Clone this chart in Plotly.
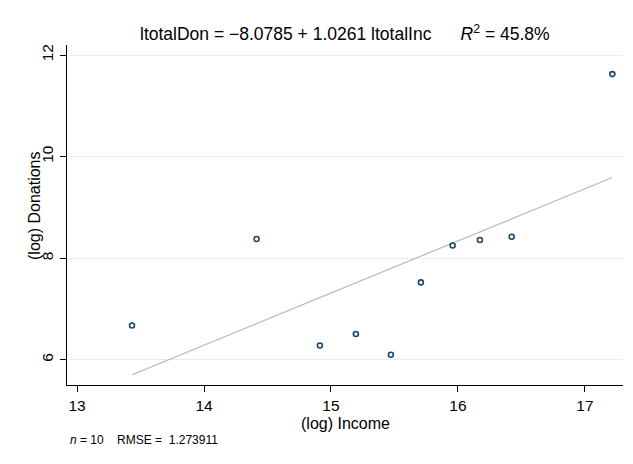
import plotly.graph_objects as go

# Data
log_income = [13.433, 14.414, 14.913, 15.196, 15.472, 15.708, 15.958, 16.173, 16.423, 17.216]
log_donations = [6.675, 8.376, 6.281, 6.506, 6.098, 7.522, 8.250, 8.356, 8.421, 11.624]
intercept = -8.0785
slope = 1.0261
r2_pct = 45.8
n_obs = 10
rmse = 1.273911
x_ticks = [13, 14, 15, 16, 17]
y_ticks = [6, 8, 10, 12]

fit_x = [min(log_income), max(log_income)]
fit_y = [intercept + slope * v for v in fit_x]

FONT = "Liberation Sans, Arial, Helvetica, sans-serif"
NB = "\u00a0"

fig = go.Figure()
fig.add_trace(go.Scatter(
    x=fit_x, y=fit_y, mode="lines",
    line=dict(color="#b8b8b8", width=1.2),
    hoverinfo="skip", showlegend=False,
))
fig.add_trace(go.Scatter(
    x=log_income, y=log_donations, mode="markers",
    marker=dict(symbol="circle-open", size=5, color="#1a476f",
                line=dict(color="#1a476f", width=1.6)),
    showlegend=False,
))

title_text = (f"ltotalDon = \u2212{abs(intercept):.4f} + {slope:.4f} ltotalInc"
              + NB * 6 + f"<i>R</i><sup>2</sup> = {r2_pct:.1f}%")
foot_text = f"<i>n</i> = {n_obs}" + NB * 4 + "RMSE = " + NB + f"{rmse:.6f}"

# the page body adds an 8px offset, so the figure is 8px smaller and margins shifted
fig.update_layout(
    width=625, height=456, autosize=False,
    margin=dict(l=59, r=10, t=37, b=79),
    paper_bgcolor="white", plot_bgcolor="white",
    font=dict(family=FONT, size=15, color="black"),
    xaxis=dict(
        range=[12.921, 17.30], tickvals=x_ticks, ticktext=[str(t) for t in x_ticks],
        showgrid=False, zeroline=False,
        showline=True, linecolor="black", linewidth=1,
        ticks="outside", ticklen=6, tickcolor="black", tickwidth=1,
        tickfont=dict(size=15.5, family=FONT),
    ),
    yaxis=dict(
        range=[5.502, 12.197], tickvals=y_ticks, ticktext=[str(t) for t in y_ticks],
        showgrid=True, gridcolor="#e7eef0", gridwidth=1, zeroline=False,
        showline=True, linecolor="black", linewidth=1,
        ticks="outside", ticklen=6, tickcolor="black", tickwidth=1,
        tickangle=-90, tickfont=dict(size=15.5, family=FONT),
        ticklabelstandoff=1,
    ),
    annotations=[
        dict(text=title_text, xref="paper", yref="paper", x=0.5, y=1.0,
             yshift=12, showarrow=False, xanchor="center", yanchor="middle",
             font=dict(size=17.5, family=FONT)),
        dict(text="(log) Income", xref="paper", yref="paper", x=0.5, y=0,
             yshift=-38, showarrow=False, xanchor="center", yanchor="middle",
             font=dict(size=16, family=FONT)),
        dict(text="(log) Donations", xref="paper", yref="paper", x=0, y=0.5,
             xshift=-33, yshift=9, textangle=-90, showarrow=False,
             xanchor="center", yanchor="middle", font=dict(size=16, family=FONT)),
        dict(text=foot_text, xref="paper", yref="paper", x=0, y=0,
             yshift=-55, xshift=1, showarrow=False, xanchor="left", yanchor="middle",
             font=dict(size=12, family=FONT)),
    ],
)

fig.write_html("out.html")
